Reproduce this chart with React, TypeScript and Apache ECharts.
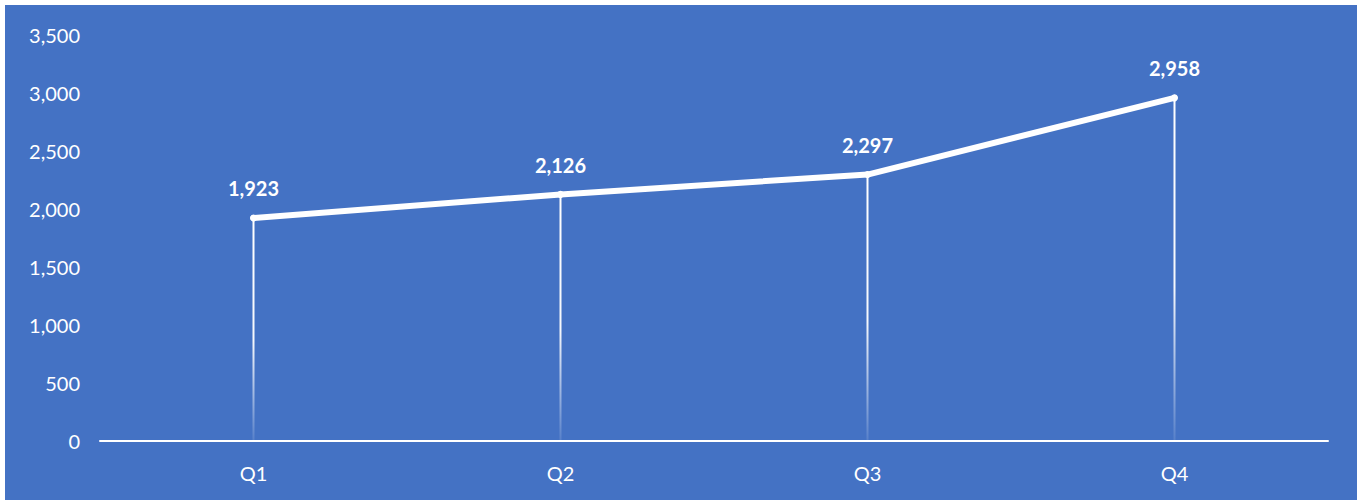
import React, { useEffect, useRef } from "react";
import * as echarts from "echarts";

const categories = ["Q1", "Q2", "Q3", "Q4"];
const values = [1923, 2126, 2297, 2958];
const yMin = 0;
const yMax = 3500;
const yStep = 500;

export default function App() {
  const ref = useRef<HTMLDivElement>(null);
  useEffect(() => {
    if (!ref.current) return;
    const chart = echarts.init(ref.current, undefined, { renderer: "svg" });
    chart.setOption({
      animation: false,
      backgroundColor: "#4472C4",
      textStyle: { fontFamily: "Lato, 'Open Sans', sans-serif" },
      grid: { left: 95, right: 29, top: 30, bottom: 59, containLabel: false },
      xAxis: {
        type: "category",
        data: categories,
        boundaryGap: true,
        axisLine: { show: true, lineStyle: { color: "#ffffff", width: 2 } },
        axisTick: { show: false },
        axisLabel: { color: "#ffffff", fontSize: 20, margin: 22 },
        splitLine: { show: false },
      },
      yAxis: {
        type: "value",
        min: yMin,
        max: yMax,
        interval: yStep,
        axisLine: { show: false },
        axisTick: { show: false },
        splitLine: { show: false },
        axisLabel: {
          color: "#ffffff",
          fontSize: 20,
          margin: 20,
          formatter: (v: number) => v.toLocaleString("en-US"),
        },
      },
      series: [
        {
          type: "bar",
          data: values,
          barWidth: 2,
          z: 1,
          silent: true,
          itemStyle: {
            color: new echarts.graphic.LinearGradient(0, 0, 0, 1, [
              { offset: 0, color: "rgba(255,255,255,1)" },
              { offset: 0.55, color: "rgba(255,255,255,0.95)" },
              { offset: 1, color: "rgba(255,255,255,0.1)" },
            ]),
          },
        },
        {
          type: "line",
          data: values,
          z: 3,
          symbol: "circle",
          symbolSize: 7,
          showSymbol: true,
          itemStyle: { color: "#ffffff" },
          lineStyle: { color: "#ffffff", width: 6, cap: "round", join: "round" },
          label: {
            show: true,
            position: "top",
            distance: 16,
            color: "#ffffff",
            fontSize: 20,
            fontWeight: "bold",
            formatter: (p: any) => Number(p.value).toLocaleString("en-US"),
          },
        },
      ],
    });
    return () => chart.dispose();
  }, []);
  return (
    <div
      ref={ref}
      style={{ position: "absolute", left: 5, top: 5, width: 1352, height: 495 }}
    />
  );
}
